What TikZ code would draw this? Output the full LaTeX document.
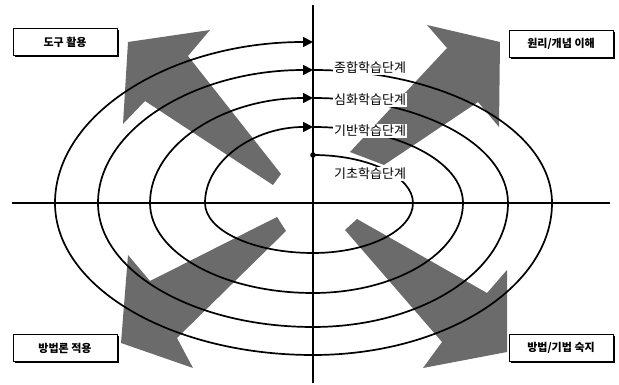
\documentclass[tikz,border=0pt]{standalone}
\usepackage{fontspec}
\setmainfont{Noto Sans CJK KR}
\usepackage{tikz}
\usetikzlibrary{arrows.meta, shadows}

\begin{document}
\begin{tikzpicture}[x=1pt, y=1pt, >={Triangle[length=10pt, width=10pt]},
        stage/.style={fill=white, inner sep=1pt, anchor=west, font=\fontsize{13}{15}\selectfont},
        goal/.style={rectangle, draw, fill=white, line width=0.7pt, minimum width=104pt, minimum height=27pt, font=\bfseries\fontsize{11}{13}\selectfont, drop shadow={shadow xshift=1.5pt, shadow yshift=-1.5pt, fill=black, opacity=1}},
        bigarrow/.style={fill=black!58, draw=none},
        spiral/.style={line width=1.7pt},
        axis/.style={line width=1.9pt}
        ]
        \useasboundingbox (0,0) rectangle (619,385);

        % Shaded arrows
        \fill[bigarrow] (128,343) -- (210,355) -- (188,329) -- (281,211) -- (273,200) -- (145,284) -- (123,261) -- cycle;
        \fill[bigarrow] (427,360) -- (500,343) -- (499,258) -- (478,283) -- (384,220) -- (350,233) -- (447,337) -- cycle;
        \fill[bigarrow] (277,168) -- (150,104) -- (128,130) -- (121,42) -- (193,17) -- (177,47) -- (286,154) -- cycle;
        \fill[bigarrow] (345,155) -- (357,166) -- (487,92) -- (507,115) -- (507,33) -- (423,17) -- (442,43) -- cycle;

        % Axes
        \coordinate (xl) at (12,182);
        \coordinate (xr) at (610,182);
        \coordinate (yt) at (313,380);
        \coordinate (yb) at (313,2);
        \draw[axis] (xl) -- (xr);
        \draw[axis] (yt) -- (yb);

        % Spiral
        \coordinate (s1) at (313,230);
        \coordinate (s2) at (313,258);
        \coordinate (s3) at (313,287);
        \coordinate (s4) at (313,315);
        \draw[spiral, ->] (s1) arc[start angle=90, end angle=0, x radius=100pt, y radius=48pt]
            arc[start angle=0, end angle=-90, x radius=100pt, y radius=50pt]
            arc[start angle=-90, end angle=-180, x radius=108pt, y radius=50pt]
            arc[start angle=180, end angle=90, x radius=108pt, y radius=76pt];
        \draw[spiral, ->] (s2) arc[start angle=90, end angle=0, x radius=150pt, y radius=76pt]
            arc[start angle=0, end angle=-90, x radius=150pt, y radius=90pt]
            arc[start angle=-90, end angle=-180, x radius=163pt, y radius=90pt]
            arc[start angle=180, end angle=90, x radius=163pt, y radius=105pt];
        \draw[spiral, ->] (s3) arc[start angle=90, end angle=0, x radius=195pt, y radius=105pt]
            arc[start angle=0, end angle=-90, x radius=195pt, y radius=124pt]
            arc[start angle=-90, end angle=-180, x radius=215pt, y radius=124pt]
            arc[start angle=180, end angle=90, x radius=215pt, y radius=133pt];
        \draw[spiral, ->] (s4) arc[start angle=90, end angle=0, x radius=239pt, y radius=133pt]
            arc[start angle=0, end angle=-90, x radius=239pt, y radius=152pt]
            arc[start angle=-90, end angle=-180, x radius=258pt, y radius=152pt]
            arc[start angle=180, end angle=90, x radius=258pt, y radius=161pt];
        \fill (s1) circle (2.8pt);

        % Stages
        \node[stage] (st4) at (333,317) {종합학습단계};
        \node[stage] (st3) at (333,285) {심화학습단계};
        \node[stage] (st2) at (333,254) {기반학습단계};
        \node[stage] (st1) at (333,211) {기초학습단계};

        % Goals
        \node[goal] (tool) at (65,343) {도구 활용};
        \node[goal] (idea) at (561,341) {원리/개념 이해};
        \node[goal] (apply) at (65,37) {방법론 적용};
        \node[goal] (skill) at (561,37) {방법/기법 숙지};
    \end{tikzpicture}
\end{document}
